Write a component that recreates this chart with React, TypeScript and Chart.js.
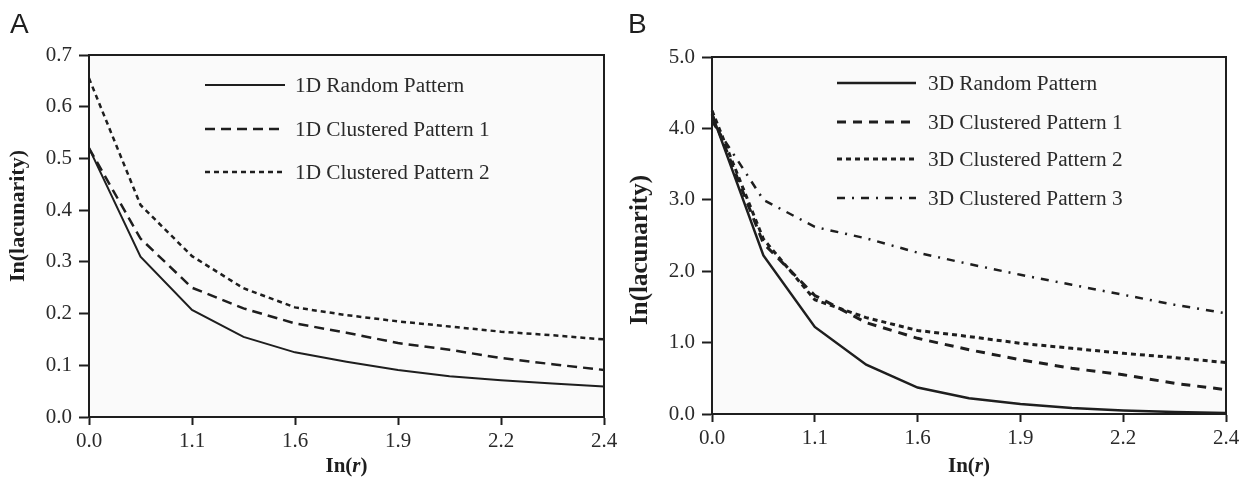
import React, { useEffect, useRef } from 'react';
import { Chart, registerables } from 'chart.js';

Chart.register(...registerables);

// ---------- data ----------
const lnRLabels = ['0.0', '0.7', '1.1', '1.4', '1.6', '1.8', '1.9', '2.1', '2.2', '2.3', '2.4'];

const yTicksA = [0, 0.7];
const yTicksB = [0, 5];

const random1D = [0.52, 0.31, 0.207, 0.155, 0.125, 0.107, 0.091, 0.079, 0.071, 0.065, 0.059];
const clustered1D1 = [0.52, 0.345, 0.25, 0.21, 0.181, 0.163, 0.143, 0.13, 0.114, 0.102, 0.091];
const clustered1D2 = [0.655, 0.41, 0.311, 0.249, 0.212, 0.197, 0.185, 0.175, 0.165, 0.158, 0.15];

const random3D = [4.2, 2.22, 1.22, 0.69, 0.37, 0.22, 0.14, 0.085, 0.05, 0.028, 0.015];
const clustered3D1 = [4.2, 2.39, 1.66, 1.28, 1.06, 0.9, 0.76, 0.64, 0.55, 0.43, 0.34];
const clustered3D2 = [4.25, 2.45, 1.6, 1.35, 1.17, 1.085, 0.99, 0.92, 0.85, 0.79, 0.72];
const clustered3D3 = [4.1, 3.0, 2.62, 2.46, 2.26, 2.1, 1.95, 1.81, 1.67, 1.53, 1.41];

const labelsA = ['1D Random Pattern', '1D Clustered Pattern 1', '1D Clustered Pattern 2'];
const labelsB = ['3D Random Pattern', '3D Clustered Pattern 1', '3D Clustered Pattern 2', '3D Clustered Pattern 3'];

// ---------- style ----------
const SERIF = '"Liberation Serif", "Times New Roman", Times, serif';
const SANS = '"Liberation Sans", Arial, Helvetica, sans-serif';
const INK = '#1e1e1e';
const TEXT = '#2a2a2a';

type PanelCfg = {
  letter: string;
  letterX: number;
  pad: { top: number; right: number };
  yWidth: number;
  xHeight: number;
  yRange: number[];
  yStep: number;
  yTitleX: number;
  yTitleSize: number;
  yTitleCenter: number;
  legend: { x0: number; x1: number; tx: number; rows: number[] };
  series: { label: string; data: number[]; dash: number[]; width: number }[];
};

const panelA: PanelCfg = {
  letter: 'A',
  letterX: 10,
  pad: { top: 55, right: 20 },
  yWidth: 89,
  xHeight: 67,
  yRange: yTicksA,
  yStep: 0.1,
  yTitleX: 18,
  yTitleSize: 22,
  yTitleCenter: 216,
  legend: { x0: 205, x1: 285, tx: 295, rows: [85, 129, 172] },
  series: [
    { label: labelsA[0], data: random1D, dash: [], width: 2 },
    { label: labelsA[1], data: clustered1D1, dash: [10, 6], width: 2.5 },
    { label: labelsA[2], data: clustered1D2, dash: [5, 4], width: 2.5 },
  ],
};

const panelB: PanelCfg = {
  letter: 'B',
  letterX: 4,
  pad: { top: 57, right: 22 },
  yWidth: 88,
  xHeight: 70,
  yRange: yTicksB,
  yStep: 1,
  yTitleX: 17,
  yTitleSize: 25,
  yTitleCenter: 250,
  legend: { x0: 213, x1: 292, tx: 304, rows: [83, 122, 159, 198] },
  series: [
    { label: labelsB[0], data: random3D, dash: [], width: 2.5 },
    { label: labelsB[1], data: clustered3D1, dash: [9, 7], width: 3 },
    { label: labelsB[2], data: clustered3D2, dash: [5, 4], width: 3 },
    { label: labelsB[3], data: clustered3D3, dash: [8, 7, 2, 7], width: 2.5 },
  ],
};

function makeDecor(cfg: PanelCfg) {
  return {
    id: 'panelDecor',
    beforeDraw(chart: any) {
      const { ctx, chartArea: ca } = chart;
      ctx.save();
      ctx.fillStyle = '#fafafa';
      ctx.fillRect(ca.left, ca.top, ca.right - ca.left, ca.bottom - ca.top);
      ctx.restore();
    },
    afterDraw(chart: any) {
      const { ctx, chartArea: ca } = chart;
      ctx.save();
      // top & right frame
      ctx.strokeStyle = INK;
      ctx.lineWidth = 2;
      ctx.setLineDash([]);
      ctx.beginPath();
      ctx.moveTo(ca.left - 1, ca.top);
      ctx.lineTo(ca.right, ca.top);
      ctx.lineTo(ca.right, ca.bottom + 1);
      ctx.stroke();

      // legend
      const lg = cfg.legend;
      chart.data.datasets.forEach((ds: any, i: number) => {
        const y = lg.rows[i];
        ctx.strokeStyle = ds.borderColor;
        ctx.lineWidth = ds.borderWidth;
        ctx.setLineDash(ds.borderDash || []);
        ctx.beginPath();
        ctx.moveTo(lg.x0, y);
        ctx.lineTo(lg.x1, y);
        ctx.stroke();
        ctx.setLineDash([]);
        ctx.fillStyle = TEXT;
        ctx.font = `21.3px ${SERIF}`;
        ctx.textAlign = 'left';
        ctx.textBaseline = 'middle';
        ctx.fillText(ds.label, lg.tx, y + 1);
      });

      // panel letter
      ctx.fillStyle = INK;
      ctx.font = `28px ${SANS}`;
      ctx.textAlign = 'left';
      ctx.textBaseline = 'alphabetic';
      ctx.fillText(cfg.letter, cfg.letterX, 33);

      // x title: In(r) with italic r
      const cx = (ca.left + ca.right) / 2;
      const bold = `bold 21px ${SERIF}`;
      const boldIt = `italic bold 21px ${SERIF}`;
      const parts = [
        { t: 'In(', f: bold },
        { t: 'r', f: boldIt },
        { t: ')', f: bold },
      ];
      let total = 0;
      parts.forEach((p) => {
        ctx.font = p.f;
        total += ctx.measureText(p.t).width;
      });
      let x = cx - total / 2;
      parts.forEach((p) => {
        ctx.font = p.f;
        ctx.fillText(p.t, x, 472);
        x += ctx.measureText(p.t).width;
      });

      // y title
      ctx.translate(cfg.yTitleX, cfg.yTitleCenter);
      ctx.rotate(-Math.PI / 2);
      ctx.font = `bold ${cfg.yTitleSize}px ${SERIF}`;
      ctx.textAlign = 'center';
      ctx.textBaseline = 'middle';
      ctx.fillText('In(lacunarity)', 0, 0);
      ctx.restore();
    },
  };
}

function Panel({ cfg }: { cfg: PanelCfg }) {
  const ref = useRef<HTMLCanvasElement>(null);
  useEffect(() => {
    const tickFont = { family: SERIF, size: 21 };
    const chart = new Chart(ref.current as HTMLCanvasElement, {
      type: 'line',
      data: {
        labels: lnRLabels,
        datasets: cfg.series.map((s) => ({
          label: s.label,
          data: s.data,
          borderColor: INK,
          backgroundColor: INK,
          borderWidth: s.width,
          borderDash: s.dash,
          borderCapStyle: 'butt',
          pointRadius: 0,
          tension: 0,
          fill: false,
        })),
      },
      options: {
        animation: false,
        responsive: false,
        devicePixelRatio: 1,
        events: [],
        layout: { padding: { top: cfg.pad.top, right: cfg.pad.right, left: 0, bottom: 0 } },
        plugins: { legend: { display: false }, tooltip: { enabled: false } },
        scales: {
          x: {
            type: 'category',
            offset: false,
            grid: {
              drawOnChartArea: false,
              drawTicks: true,
              tickLength: 8,
              tickWidth: 2,
              tickColor: (c: any) => (c.index % 2 === 0 ? INK : 'rgba(0,0,0,0)'),
            },
            border: { display: true, color: INK, width: 2 },
            ticks: {
              autoSkip: false,
              maxRotation: 0,
              padding: 4,
              color: TEXT,
              font: tickFont,
              callback: function (this: any, v: any, i: number) {
                return i % 2 === 0 ? this.getLabelForValue(v) : '';
              },
            },
            afterFit: (s: any) => {
              s.height = cfg.xHeight;
            },
          },
          y: {
            min: cfg.yRange[0],
            max: cfg.yRange[1],
            grid: { drawOnChartArea: false, drawTicks: true, tickLength: 10, tickWidth: 2, tickColor: INK },
            border: { display: true, color: INK, width: 2 },
            ticks: {
              stepSize: cfg.yStep,
              padding: 7,
              color: TEXT,
              font: tickFont,
              callback: (v: any) => Number(v).toFixed(1),
            },
            afterFit: (s: any) => {
              s.width = cfg.yWidth;
            },
          },
        },
      } as any,
      plugins: [makeDecor(cfg)],
    });
    return () => chart.destroy();
  }, [cfg]);
  return <canvas ref={ref} width={624} height={484} style={{ display: 'block', width: 624, height: 484 }} />;
}

export default function App() {
  return (
    <div style={{ position: 'absolute', left: 0, top: 0, width: 1248, height: 484, display: 'flex', background: '#fff' }}>
      <Panel cfg={panelA} />
      <Panel cfg={panelB} />
    </div>
  );
}
